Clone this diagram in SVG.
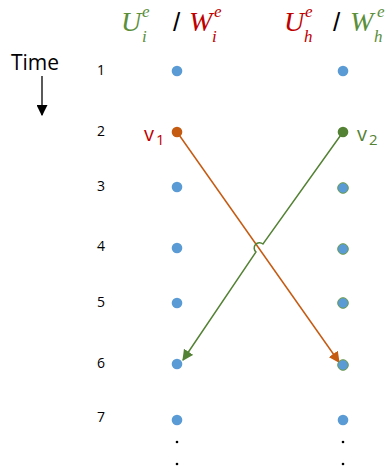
<svg xmlns="http://www.w3.org/2000/svg" width="386" height="472" viewBox="0 0 386 472">
<style>
.num{font-family:"Open Sans","Liberation Sans",sans-serif;font-size:14px;fill:#000}
.hdr{font-family:"Liberation Serif",serif;font-style:italic;font-size:28px}
.sup{font-family:"Liberation Serif",serif;font-style:italic;font-size:17px}
.sl{font-family:"Liberation Sans",sans-serif;font-size:26px;fill:#000}
.g{fill:#5B8F3A}
.r{fill:#C00000}
.dot{fill:#5B9BD5}
.dotg{fill:#5B9BD5;stroke:#6A9A4A;stroke-width:1}
.vl{font-family:"Open Sans","Liberation Sans",sans-serif;font-size:20px}
.vs{font-family:"Open Sans","Liberation Sans",sans-serif;font-size:15px}
</style>
<defs>
<marker id="ag" viewBox="0 0 10 10" refX="9" refY="5" markerWidth="11" markerHeight="11" orient="auto" markerUnits="userSpaceOnUse"><path d="M0,0 L10,5 L0,10 Z" fill="#548235"/></marker>
<marker id="ao2" viewBox="0 0 10 10" refX="9" refY="5" markerWidth="11" markerHeight="11" orient="auto" markerUnits="userSpaceOnUse"><path d="M0,0 L10,5 L0,10 Z" fill="#C55A11"/></marker>
<marker id="ak" viewBox="0 0 10 10" refX="9" refY="5" markerWidth="11" markerHeight="11" orient="auto" markerUnits="userSpaceOnUse"><path d="M0,0 L10,5 L0,10 Z" fill="#000"/></marker>
</defs>
<g id="headers">
<text class="hdr g" x="121" y="31">U</text><text class="sup g" x="142" y="17">e</text><text class="sup g" x="142" y="42">i</text>
<text class="sl" x="173" y="31">/</text>
<text class="hdr r" x="189" y="31">W</text><text class="sup r" x="214" y="17">e</text><text class="sup r" x="212" y="42">i</text>
<text class="hdr r" x="284" y="31">U</text><text class="sup r" x="305" y="17">e</text><text class="sup r" x="304" y="42">h</text>
<text class="sl" x="333" y="31">/</text>
<text class="hdr g" x="350" y="31">W</text><text class="sup g" x="377" y="17">e</text><text class="sup g" x="374" y="42">h</text>
</g>
<g id="time">
<text x="11" y="70" font-family="Open Sans,Liberation Sans,sans-serif" font-size="21">Time</text>
<line x1="42" y1="76" x2="42" y2="115" stroke="#000" stroke-width="1.3" marker-end="url(#ak)"/>
</g>
<g id="numbers">
<text class="num" x="97" y="75">1</text>
<text class="num" x="97" y="136">2</text>
<text class="num" x="97" y="191">3</text>
<text class="num" x="97" y="251">4</text>
<text class="num" x="97" y="307">5</text>
<text class="num" x="97" y="368">6</text>
<text class="num" x="97" y="422">7</text>
</g>
<g id="connectors">
<line x1="177" y1="132" x2="339" y2="362" stroke="#C55A11" stroke-width="1.5" marker-end="url(#ao2)"/>
<path d="M343,132 L263,244 A4.5,4.5 0 0 0 256,252 L183,360" fill="none" stroke="#548235" stroke-width="1.5" marker-end="url(#ag)"/>
</g>
<g id="left-column">
<circle class="dot" cx="177" cy="71" r="5.3"/>
<circle cx="177" cy="132" r="5.3" fill="#C55A11"/>
<circle class="dot" cx="177" cy="187" r="5.3"/>
<circle class="dot" cx="177" cy="248" r="5.3"/>
<circle class="dot" cx="177" cy="303" r="5.3"/>
<circle class="dot" cx="177" cy="364" r="5.3"/>
<circle class="dot" cx="177" cy="420" r="5.3"/>
<circle cx="177" cy="442" r="1.3" fill="#000"/>
<circle cx="177" cy="464" r="1.3" fill="#000"/>
</g>
<g id="right-column">
<circle class="dot" cx="343" cy="71" r="5.3"/>
<circle cx="343" cy="132" r="5.3" fill="#548235"/>
<circle class="dotg" cx="343" cy="188" r="5.3"/>
<circle class="dotg" cx="343" cy="249" r="5.3"/>
<circle class="dotg" cx="343" cy="303" r="5.3"/>
<circle class="dotg" cx="343" cy="365" r="5.3"/>
<circle class="dot" cx="343" cy="420" r="5.3"/>
<circle cx="343" cy="442" r="1.3" fill="#000"/>
<circle cx="343" cy="464" r="1.3" fill="#000"/>
</g>
<g id="v1"><text class="vl r" x="144" y="141">v</text><text class="vs r" x="156" y="145">1</text></g>
<g id="v2"><text class="vl" x="357" y="141" fill="#548235">v</text><text class="vs" x="369" y="145" fill="#548235">2</text></g>
</svg>
